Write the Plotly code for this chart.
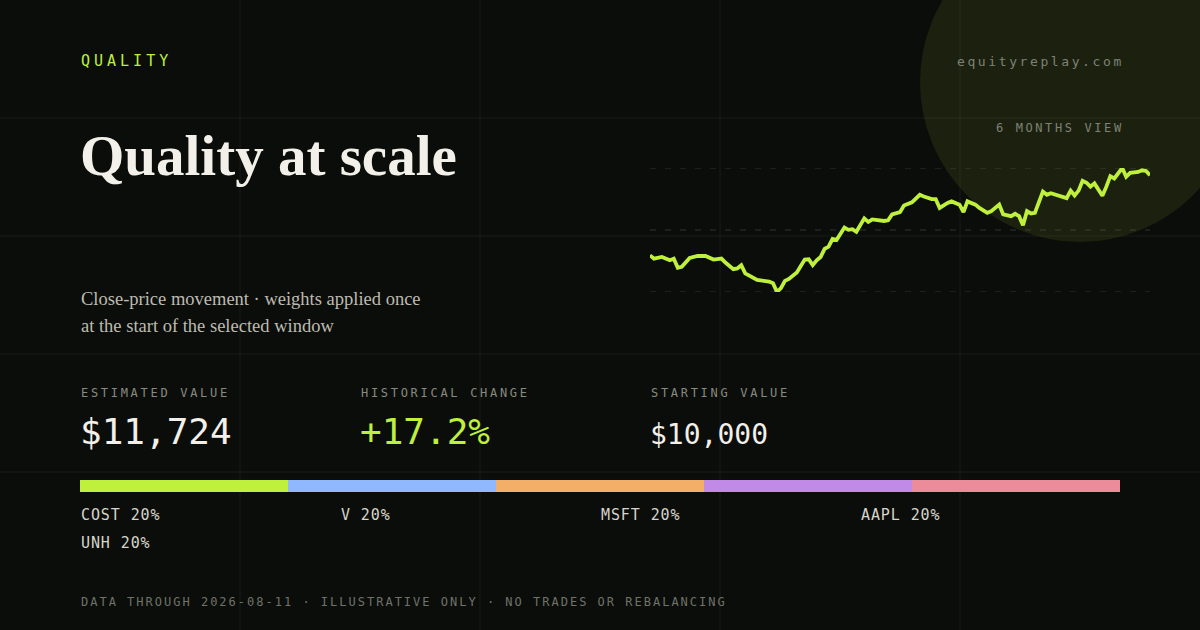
import json
import plotly.graph_objects as go

W, H = 1200, 630

# portfolio value over the window (trading day index, value in $)
days = [0, 1, 3, 5, 6, 7, 8, 10, 12, 14, 16, 18, 19, 21, 22, 23, 24, 27, 30, 31,
        32, 33, 34, 35, 37, 39, 40, 41, 42, 43, 44, 45, 46, 47, 49, 50, 51, 52, 54, 55,
        56, 59, 60, 61, 63, 64, 66, 68, 69, 71, 72, 73, 75, 76, 78, 79, 80, 82, 83, 85,
        86, 88, 89, 91, 92, 93, 94, 95, 96, 97, 99, 100, 101, 104, 105, 106, 107, 108, 109, 110,
        111, 112, 114, 115, 116, 117, 119, 120, 121, 123, 124, 125, 126]
values = [10000, 9930, 9965, 9894, 9930, 9733, 9754, 9944, 9986, 9986, 9909, 9930, 9845, 9704, 9719, 9789, 9613, 9472, 9437, 9402,
          9212, 9296, 9451, 9493, 9634, 9909, 9916, 9789, 9894, 9965, 10141, 10190, 10352, 10331, 10598, 10549, 10563, 10507, 10795, 10718,
          10774, 10739, 10753, 10880, 10929, 11070, 11140, 11302, 11267, 11210, 11210, 11020, 11126, 11161, 11091, 10929, 11161, 11091, 11020, 10915,
          10950, 11091, 10880, 10844, 10894, 10844, 10647, 10950, 10901, 10915, 11372, 11302, 11337, 11267, 11231, 11393, 11288, 11393, 11604, 11562,
          11478, 11548, 11281, 11478, 11703, 11654, 11879, 11689, 11773, 11794, 11830, 11816, 11724]

tickers = ["COST", "V", "MSFT", "AAPL", "UNH"]
weights = [20, 20, 20, 20, 20]
colors = ["#bef03c", "#8fb8ff", "#f3ae68", "#c08ae6", "#ec8c9a"]

stat_labels = ["ESTIMATED VALUE", "HISTORICAL CHANGE", "STARTING VALUE"]
stat_values = ["$11,724", "+17.2%", "$10,000"]

subtitle_lines = ["Close-price movement · weights applied once",
                  "at the start of the selected window"]

BG = "#0b0d0a"
LIME = "#bef03c"
MONO = "DejaVu Sans Mono, Liberation Mono, monospace"
SERIF = "Liberation Serif, DejaVu Serif, serif"


def px(x):
    return x / W


def py(y):
    return 1 - y / H


fig = go.Figure()

fig.add_trace(go.Scatter(x=days, y=values, mode="lines",
                         line=dict(color=LIME, width=3.8, shape="linear"),
                         hoverinfo="skip", showlegend=False))

for t, w, c in zip(tickers, weights, colors):
    fig.add_trace(go.Bar(x=[w], y=[0], orientation="h", marker=dict(color=c, line=dict(width=0)),
                         xaxis="x2", yaxis="y2", showlegend=False, hoverinfo="skip", name=t))

shapes = []
# soft glow circle, top right
shapes.append(dict(type="circle", xref="paper", yref="paper", layer="below",
                   x0=px(920), x1=px(1240), y0=py(242), y1=py(-78),
                   fillcolor="rgba(190,240,60,0.09)", line=dict(width=0)))
# background grid
for gx in [240, 480, 720, 960]:
    shapes.append(dict(type="line", xref="paper", yref="paper", layer="below",
                       x0=px(gx), x1=px(gx), y0=0, y1=1,
                       line=dict(color="rgba(255,255,255,0.045)", width=1.5)))
for gy in [118, 236, 354, 472]:
    shapes.append(dict(type="line", xref="paper", yref="paper", layer="below",
                       x0=0, x1=1, y0=py(gy), y1=py(gy),
                       line=dict(color="rgba(255,255,255,0.045)", width=1.5)))
# dashed guides at min / mid / max of the series
lo, hi = min(values), max(values)
for v in [lo, (lo + hi) / 2, hi]:
    shapes.append(dict(type="line", xref="x", yref="y", layer="below",
                       x0=days[0], x1=days[-1], y0=v, y1=v,
                       line=dict(color="rgba(255,255,255,0.10)", width=1.5, dash="6px,9px")))

ann = []
spacing = {}  # annotation index -> letter spacing (px), applied after render


def text(x, y, s, size, color, font=MONO, ls=0, weight=None):
    f = dict(family=font, size=size, color=color)
    if weight:
        f["weight"] = weight
    if ls:
        spacing[len(ann)] = ls
    ann.append(dict(x=px(x), y=py(y), xref="paper", yref="paper", text=s, showarrow=False,
                    xanchor="left", yanchor="middle", align="left", font=f))


text(79, 61, "QUALITY", 15, LIME, ls=4.0)
text(955, 62, "equityreplay.com", 13, "#7e8176", ls=2.6)
text(994, 128, "6 MONTHS VIEW", 12, "#7e8176", ls=2.6)
text(78, 155, "Quality at scale", 57, "#f2f0e8", font=SERIF, weight=700)
for i, line in enumerate(subtitle_lines):
    text(79, 299 + i * 27, line, 18.5, "#bdbbb1", font=SERIF)

stat_x = [80, 360, 650]
stat_sizes = [36, 36, 28]
stat_colors = ["#f2f0e8", LIME, "#f2f0e8"]
stat_y = [431, 431, 434]
for i in range(len(stat_labels)):
    text(stat_x[i] - 1, 393, stat_labels[i], 12, "#878a80", ls=2.7)
    text(stat_x[i] - 2, stat_y[i], stat_values[i], stat_sizes[i], stat_colors[i])

for i, (t, w) in enumerate(zip(tickers, weights)):
    col, row = i % 4, i // 4
    text(79 + col * 260, 515 + row * 28, f"{t} {w}%", 15, "#d6d4cb", ls=0.9)

text(79, 602, "DATA THROUGH 2026-08-11 · ILLUSTRATIVE ONLY · NO TRADES OR REBALANCING", 12, "#6f7369", ls=2.0)

fig.update_layout(
    width=W, height=H,
    margin=dict(l=0, r=0, t=0, b=0),
    paper_bgcolor=BG, plot_bgcolor="rgba(0,0,0,0)",
    barmode="stack", bargap=0,
    xaxis=dict(domain=[px(650), px(1150)], range=[days[0], days[-1]], visible=False, fixedrange=True),
    yaxis=dict(domain=[py(292), py(168)], range=[lo, hi], visible=False, fixedrange=True),
    xaxis2=dict(domain=[px(80), px(1120)], range=[0, sum(weights)], visible=False, anchor="y2"),
    yaxis2=dict(domain=[py(492), py(480)], range=[-0.5, 0.5], visible=False, anchor="x2"),
    shapes=shapes, annotations=ann,
)

post = """
document.body.style.margin = '0';
document.body.style.background = '%s';
var sp = %s;
var gd = document.getElementById('{plot_id}');
gd.querySelectorAll('g.annotation').forEach(function(g) {
  var s = sp[g.getAttribute('data-index')];
  if (s) g.querySelectorAll('text').forEach(function(t) { t.style.letterSpacing = s + 'px'; });
});
""" % (BG, json.dumps({str(k): v for k, v in spacing.items()}))

fig.write_html("out.html", config={"displayModeBar": False}, post_script=post)
